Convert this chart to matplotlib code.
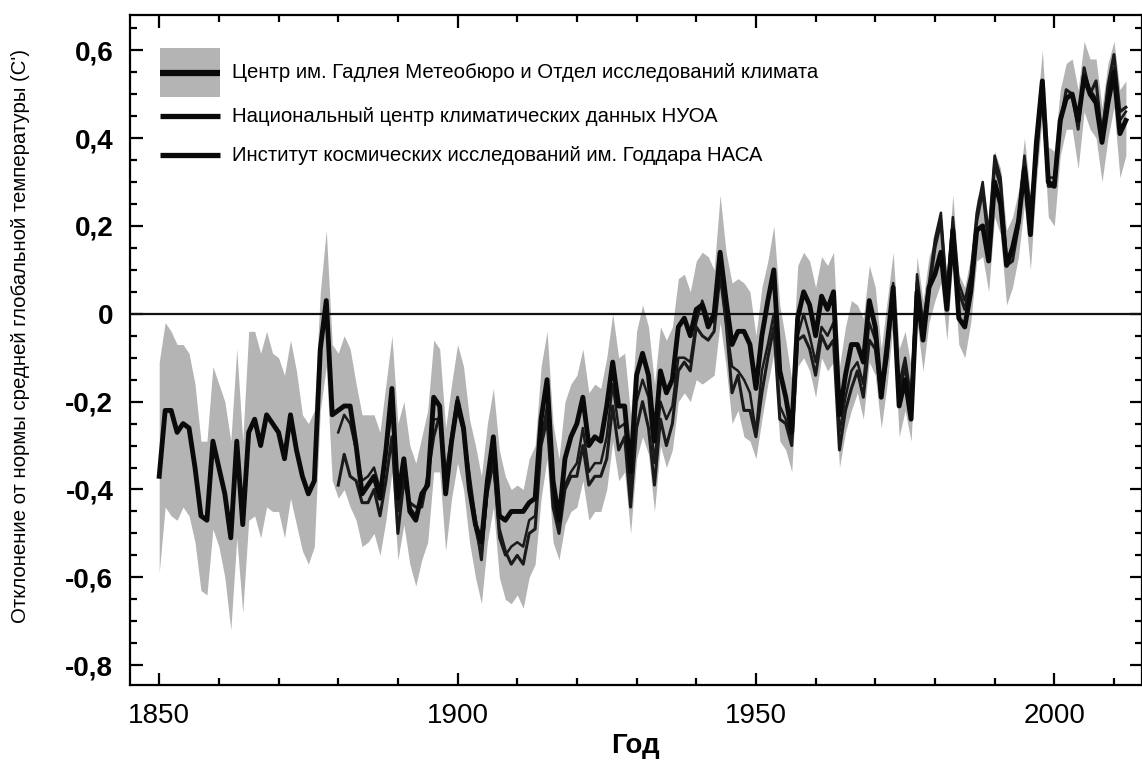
import matplotlib
matplotlib.use('Agg')
import matplotlib.pyplot as plt
from matplotlib.patches import Rectangle
from matplotlib.ticker import MultipleLocator

plt.rcParams['font.family'] = ['Liberation Sans', 'DejaVu Sans']

years = list(range(1850, 2013))
years_us = list(range(1880, 2013))

# HadCRUT (Центр Гадлея / CRU)
hadcrut = [
    -0.37, -0.22, -0.22, -0.27, -0.25, -0.26, -0.35, -0.46, -0.47, -0.29,
    -0.35, -0.41, -0.51, -0.29, -0.48, -0.27, -0.24, -0.30, -0.23, -0.25,
    -0.27, -0.33, -0.23, -0.31, -0.37, -0.41, -0.38, -0.08, 0.03, -0.23,
    -0.22, -0.21, -0.21, -0.30, -0.41, -0.39, -0.37, -0.42, -0.31, -0.17,
    -0.42, -0.33, -0.45, -0.47, -0.41, -0.39, -0.19, -0.21, -0.41, -0.29,
    -0.20, -0.26, -0.40, -0.48, -0.52, -0.38, -0.28, -0.46, -0.47, -0.45,
    -0.45, -0.45, -0.43, -0.42, -0.24, -0.15, -0.38, -0.47, -0.33, -0.28,
    -0.25, -0.19, -0.30, -0.28, -0.29, -0.21, -0.11, -0.21, -0.21, -0.36,
    -0.14, -0.09, -0.14, -0.29, -0.13, -0.18, -0.15, -0.03, -0.01, -0.05,
    0.01, 0.02, -0.03, 0.00, 0.14, 0.03, -0.07, -0.04, -0.04, -0.07,
    -0.17, -0.05, 0.03, 0.10, -0.13, -0.19, -0.27, -0.01, 0.05, 0.02,
    -0.05, 0.04, 0.01, 0.05, -0.23, -0.14, -0.07, -0.07, -0.11, 0.03,
    -0.03, -0.19, -0.07, 0.06, -0.21, -0.15, -0.24, 0.05, -0.06, 0.06,
    0.09, 0.14, 0.01, 0.19, -0.01, -0.03, 0.05, 0.19, 0.20, 0.12,
    0.30, 0.25, 0.11, 0.15, 0.21, 0.33, 0.18, 0.39, 0.53, 0.30,
    0.29, 0.44, 0.49, 0.50, 0.44, 0.54, 0.50, 0.48, 0.39, 0.48,
    0.55, 0.41, 0.44,
]

# grey band around HadCRUT
band_lo = [
    -0.59, -0.44, -0.46, -0.47, -0.44, -0.46, -0.52, -0.63, -0.64, -0.49,
    -0.53, -0.60, -0.72, -0.51, -0.68, -0.47, -0.46, -0.51, -0.44, -0.45,
    -0.45, -0.51, -0.42, -0.48, -0.54, -0.57, -0.53, -0.22, -0.12, -0.38,
    -0.42, -0.40, -0.44, -0.47, -0.53, -0.52, -0.50, -0.55, -0.47, -0.36,
    -0.56, -0.48, -0.57, -0.62, -0.56, -0.52, -0.36, -0.36, -0.54, -0.42,
    -0.34, -0.40, -0.52, -0.60, -0.66, -0.52, -0.44, -0.60, -0.65, -0.66,
    -0.64, -0.67, -0.60, -0.57, -0.42, -0.33, -0.52, -0.56, -0.48, -0.45,
    -0.44, -0.38, -0.47, -0.45, -0.45, -0.40, -0.29, -0.38, -0.36, -0.50,
    -0.33, -0.28, -0.32, -0.45, -0.30, -0.35, -0.31, -0.20, -0.18, -0.20,
    -0.15, -0.16, -0.15, -0.14, -0.02, -0.12, -0.25, -0.22, -0.28, -0.29,
    -0.33, -0.24, -0.16, -0.09, -0.29, -0.31, -0.36, -0.12, -0.10, -0.13,
    -0.19, -0.10, -0.13, -0.11, -0.35, -0.27, -0.22, -0.18, -0.24, -0.11,
    -0.14, -0.26, -0.16, -0.02, -0.28, -0.22, -0.29, -0.02, -0.13, -0.02,
    0.03, 0.07, -0.06, 0.12, -0.07, -0.10, -0.02, 0.12, 0.13, 0.05,
    0.22, 0.18, 0.02, 0.06, 0.13, 0.25, 0.10, 0.30, 0.45, 0.22,
    0.20, 0.36, 0.42, 0.42, 0.33, 0.46, 0.42, 0.40, 0.30, 0.40,
    0.47, 0.31, 0.36,
]
band_hi = [
    -0.11, -0.02, -0.04, -0.07, -0.07, -0.09, -0.16, -0.29, -0.29, -0.12,
    -0.16, -0.20, -0.29, -0.08, -0.29, -0.04, -0.04, -0.09, -0.04, -0.09,
    -0.10, -0.14, -0.06, -0.13, -0.23, -0.25, -0.22, 0.05, 0.19, -0.07,
    -0.09, -0.05, -0.08, -0.16, -0.23, -0.23, -0.23, -0.27, -0.16, -0.05,
    -0.25, -0.20, -0.30, -0.34, -0.28, -0.22, -0.06, -0.08, -0.26, -0.16,
    -0.07, -0.12, -0.24, -0.30, -0.37, -0.25, -0.17, -0.31, -0.37, -0.40,
    -0.39, -0.40, -0.33, -0.30, -0.12, -0.04, -0.25, -0.33, -0.20, -0.16,
    -0.14, -0.08, -0.18, -0.16, -0.17, -0.10, 0.00, -0.10, -0.09, -0.23,
    -0.04, 0.02, -0.03, -0.16, -0.03, -0.06, -0.03, 0.08, 0.09, 0.05,
    0.12, 0.14, 0.13, 0.10, 0.27, 0.14, 0.07, 0.08, 0.07, 0.05,
    -0.05, 0.06, 0.12, 0.20, 0.02, -0.06, -0.15, 0.11, 0.14, 0.12,
    0.06, 0.13, 0.11, 0.14, -0.12, -0.03, 0.03, 0.02, -0.01, 0.11,
    0.06, -0.08, 0.03, 0.14, -0.08, -0.04, -0.12, 0.13, 0.03, 0.13,
    0.17, 0.22, 0.09, 0.27, 0.09, 0.06, 0.13, 0.26, 0.30, 0.21,
    0.37, 0.33, 0.19, 0.22, 0.28, 0.40, 0.27, 0.45, 0.60, 0.38,
    0.37, 0.51, 0.57, 0.58, 0.51, 0.62, 0.58, 0.58, 0.47, 0.57,
    0.62, 0.51, 0.53,
]

# NOAA NCDC
noaa = [
    -0.27, -0.23, -0.25, -0.31, -0.38, -0.37, -0.35, -0.40, -0.31, -0.22,
    -0.45, -0.37, -0.44, -0.46, -0.42, -0.38, -0.24, -0.24, -0.41, -0.28,
    -0.22, -0.27, -0.40, -0.49, -0.55, -0.41, -0.34, -0.51, -0.55, -0.53,
    -0.52, -0.53, -0.47, -0.46, -0.29, -0.21, -0.42, -0.49, -0.39, -0.36,
    -0.34, -0.26, -0.36, -0.34, -0.34, -0.28, -0.16, -0.26, -0.25, -0.40,
    -0.20, -0.15, -0.19, -0.34, -0.20, -0.24, -0.21, -0.10, -0.10, -0.11,
    -0.02, 0.03, -0.01, -0.02, 0.10, -0.02, -0.12, -0.13, -0.15, -0.18,
    -0.27, -0.13, -0.07, 0.00, -0.21, -0.24, -0.29, -0.05, 0.00, -0.05,
    -0.11, -0.03, -0.05, -0.02, -0.27, -0.19, -0.13, -0.11, -0.16, -0.02,
    -0.06, -0.17, -0.08, 0.07, -0.16, -0.10, -0.19, 0.09, -0.02, 0.07,
    0.17, 0.23, 0.05, 0.22, 0.07, 0.03, 0.09, 0.23, 0.30, 0.18,
    0.36, 0.31, 0.13, 0.14, 0.22, 0.36, 0.24, 0.37, 0.53, 0.31,
    0.31, 0.45, 0.49, 0.50, 0.44, 0.55, 0.51, 0.49, 0.42, 0.51,
    0.56, 0.44, 0.46,
]

# NASA GISS
giss = [
    -0.39, -0.32, -0.37, -0.38, -0.43, -0.43, -0.40, -0.46, -0.38, -0.28,
    -0.50, -0.38, -0.43, -0.44, -0.44, -0.37, -0.28, -0.23, -0.37, -0.28,
    -0.19, -0.27, -0.37, -0.47, -0.56, -0.39, -0.33, -0.49, -0.54, -0.57,
    -0.55, -0.57, -0.50, -0.49, -0.30, -0.24, -0.44, -0.50, -0.40, -0.37,
    -0.37, -0.30, -0.39, -0.37, -0.37, -0.33, -0.21, -0.31, -0.28, -0.44,
    -0.26, -0.20, -0.26, -0.39, -0.24, -0.30, -0.25, -0.13, -0.11, -0.13,
    -0.03, -0.05, -0.06, -0.04, 0.09, -0.02, -0.18, -0.14, -0.22, -0.22,
    -0.28, -0.18, -0.10, -0.03, -0.24, -0.25, -0.30, -0.06, -0.05, -0.08,
    -0.14, -0.05, -0.08, -0.06, -0.31, -0.22, -0.17, -0.13, -0.19, -0.06,
    -0.08, -0.19, -0.10, 0.05, -0.18, -0.12, -0.21, 0.07, -0.04, 0.05,
    0.15, 0.21, 0.03, 0.20, 0.05, 0.01, 0.07, 0.21, 0.28, 0.16,
    0.34, 0.29, 0.11, 0.12, 0.20, 0.34, 0.22, 0.35, 0.51, 0.29,
    0.29, 0.43, 0.51, 0.50, 0.42, 0.56, 0.50, 0.53, 0.40, 0.52,
    0.59, 0.46, 0.47,
]

labels = [
    'Центр им. Гадлея Метеобюро и Отдел исследований климата',
    'Национальный центр климатических данных НУОА',
    'Институт космических исследований им. Годдара НАСА',
]
ytick_vals = [-0.8, -0.6, -0.4, -0.2, 0, 0.2, 0.4, 0.6]
ytick_text = ['-0,8', '-0,6', '-0,4', '-0,2', '0', '0,2', '0,4', '0,6']
xtick_vals = [1850, 1900, 1950, 2000]

fig = plt.figure(figsize=(11.42, 7.70), dpi=100)
ax = fig.add_axes([0.1138, 0.1104, 0.8862, 0.8701])

ax.fill_between(years, band_lo, band_hi, color='#b4b4b4', lw=0, zorder=1)
ax.axhline(0, color='#111111', lw=1.6, zorder=2)
ax.plot(years_us, noaa, color='#1a1a1a', lw=1.8, zorder=3)
ax.plot(years_us, giss, color='#1a1a1a', lw=2.2, zorder=3)
ax.plot(years, hadcrut, color='#0a0a0a', lw=3.5, zorder=4)

ax.set_xlim(1845.1, 2014.7)
ax.set_ylim(-0.845, 0.68)

ax.set_yticks(ytick_vals)
ax.set_yticklabels(ytick_text, fontsize=20, fontweight='bold')
ax.set_xticks(xtick_vals)
ax.set_xticklabels([str(v) for v in xtick_vals], fontsize=20)
ax.xaxis.set_minor_locator(MultipleLocator(10))
ax.yaxis.set_minor_locator(MultipleLocator(0.05))
ax.tick_params(which='both', direction='in', top=True, right=True, width=1.6)
ax.tick_params(which='major', length=9)
ax.tick_params(which='minor', length=5)
ax.tick_params(axis='x', pad=13)
ax.tick_params(axis='y', pad=12)
for sp in ax.spines.values():
    sp.set_linewidth(1.6)

ax.set_xlabel('Год', fontsize=20, fontweight='bold')
ax.xaxis.set_label_coords(0.499, -0.072)
ax.set_ylabel('Отклонение от нормы средней глобальной температуры (C\')',
              fontsize=14.7)
ax.yaxis.set_label_coords(-0.099, 0.521)

# legend drawn by hand (grey patch + line for the first entry)
ax.add_patch(Rectangle((0.0296, 0.878), 0.0594, 0.073, transform=ax.transAxes,
                       color='#b4b4b4', lw=0, zorder=5))
rows = [0.914, 0.849, 0.791]
widths = [4.5, 3.8, 3.8]
for yy, lab, w in zip(rows, labels, widths):
    ax.plot([0.0296, 0.089], [yy, yy], transform=ax.transAxes, color='#0a0a0a',
            lw=w, solid_capstyle='butt', zorder=6)
    ax.text(0.1008, yy, lab, transform=ax.transAxes, fontsize=14.7,
            va='center', ha='left', zorder=6)

fig.savefig('out.png', dpi=100)
